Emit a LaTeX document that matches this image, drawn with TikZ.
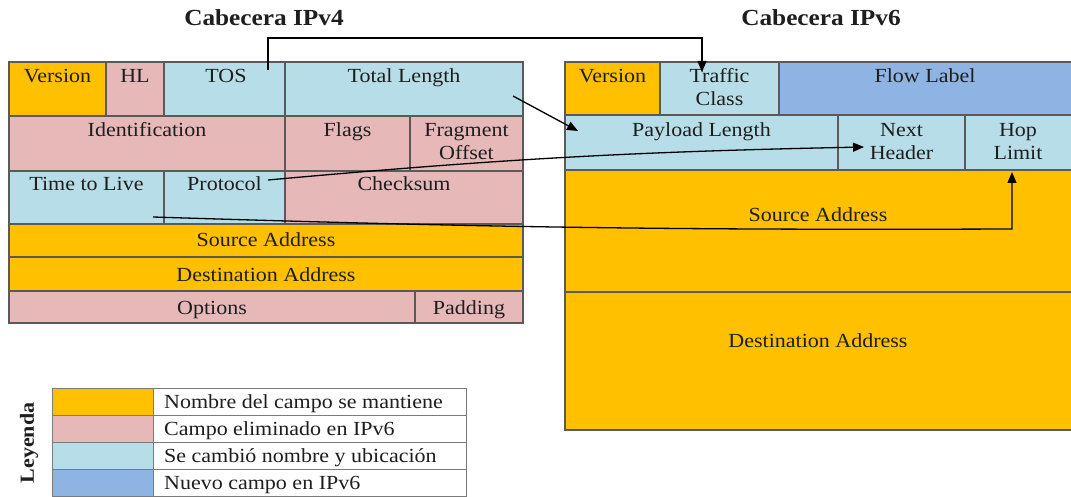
\documentclass[tikz,border=0pt]{standalone}
\usepackage{fontspec}
\setmainfont{Liberation Serif}[FakeStretch=1.1]
\usetikzlibrary{arrows.meta}
\definecolor{gold}{HTML}{FFC000}
\definecolor{rose}{HTML}{E6B9B8}
\definecolor{sky}{HTML}{B7DEE8}
\definecolor{azure}{HTML}{8DB4E2}
\definecolor{edge}{HTML}{5A5A5A}
\definecolor{ink}{HTML}{1E1E1E}
\begin{document}
\begin{tikzpicture}[x=1pt,y=-1pt,
  cell/.style={draw=edge, line width=1.2pt},
  lcell/.style={draw=edge!80, line width=1pt},
  txt/.style={anchor=base, inner sep=0pt, text=ink, font=\fontsize{20}{23}\selectfont},
  ltxt/.style={anchor=base west, inner sep=0pt, text=ink, font=\fontsize{20}{23}\selectfont},
  ttl/.style={anchor=base, inner sep=0pt, text=ink, font=\bfseries\fontsize{23}{26}\selectfont},
  conn/.style={line width=1.3pt, draw=black, -{Triangle[length=11pt,width=9pt]}},
]
\useasboundingbox[fill=white] (0,0) rectangle (1071,497);

% titles
\node[ttl] (t4) at (264,26) {Cabecera IPv4};
\node[ttl] (t6) at (821,26) {Cabecera IPv6};

% IPv4 header
\path[cell, fill=gold] (9,62) rectangle (106,116);
\path[cell, fill=rose] (106,62) rectangle (164,116);
\path[cell, fill=sky] (164,62) rectangle (285,116);
\path[cell, fill=sky] (285,62) rectangle (523,116);
\path[cell, fill=rose] (9,116) rectangle (285,171);
\path[cell, fill=rose] (285,116) rectangle (410,171);
\path[cell, fill=rose] (410,116) rectangle (523,171);
\path[cell, fill=sky] (9,171) rectangle (164,224);
\path[cell, fill=sky] (164,171) rectangle (285,224);
\path[cell, fill=rose] (285,171) rectangle (523,224);
\path[cell, fill=gold] (9,224) rectangle (523,257);
\path[cell, fill=gold] (9,257) rectangle (523,291);
\path[cell, fill=rose] (9,291) rectangle (415,323);
\path[cell, fill=rose] (415,291) rectangle (523,323);

\node[txt] (a1) at (57.5,83) {Version};
\node[txt] (a2) at (135,83) {HL};
\node[txt] (a3) at (226,83) {TOS};
\node[txt] (a4) at (404,83) {Total Length};
\node[txt] (a5) at (147,137) {Identification};
\node[txt] (a6) at (347.5,137) {Flags};
\node[txt] (a7) at (466.5,137) {Fragment};
\node[txt] (a7b) at (466.5,160) {Offset};
\node[txt] (a8) at (86.5,191) {Time to Live};
\node[txt] (a9) at (224.5,191) {Protocol};
\node[txt] (a10) at (404,191) {Checksum};
\node[txt] (a11) at (266,247) {Source Address};
\node[txt] (a12) at (266,281) {Destination Address};
\node[txt] (a13) at (212,314) {Options};
\node[txt] (a14) at (469,314) {Padding};

% IPv6 header
\path[cell, fill=gold] (565,62) rectangle (660,115);
\path[cell, fill=sky] (660,62) rectangle (779,115);
\path[cell, fill=azure] (779,62) rectangle (1076,115);
\path[cell, fill=sky] (565,115) rectangle (838,170);
\path[cell, fill=sky] (838,115) rectangle (965,170);
\path[cell, fill=sky] (965,115) rectangle (1076,170);
\path[cell, fill=gold] (565,170) rectangle (1076,292);
\path[cell, fill=gold] (565,292) rectangle (1076,430);

\node[txt] (b1) at (612.5,83) {Version};
\node[txt] (b2) at (719.5,83) {Traffic};
\node[txt] (b2b) at (719.5,106) {Class};
\node[txt] (b3) at (925,83) {Flow Label};
\node[txt] (b4) at (701.5,137) {Payload Length};
\node[txt] (b5) at (901.5,137) {Next};
\node[txt] (b5b) at (901.5,160) {Header};
\node[txt] (b6) at (1018,137) {Hop};
\node[txt] (b6b) at (1018,160) {Limit};
\node[txt] (b7) at (818,222) {Source Address};
\node[txt] (b8) at (818,347) {Destination Address};

% legend
\path[lcell, fill=gold] (52,388) rectangle (153,415);
\path[lcell, fill=rose] (52,415) rectangle (153,442);
\path[lcell, fill=sky] (52,442) rectangle (153,469);
\path[lcell, fill=azure] (52,469) rectangle (153,496);
\path[lcell, fill=white] (153,388) rectangle (466,415);
\path[lcell, fill=white] (153,415) rectangle (466,442);
\path[lcell, fill=white] (153,442) rectangle (466,469);
\path[lcell, fill=white] (153,469) rectangle (466,496);
\node[ltxt] (l1) at (164,408) {Nombre del campo se mantiene};
\node[ltxt] (l2) at (164,435) {Campo eliminado en IPv6};
\node[ltxt] (l3) at (164,462) {Se cambió nombre y ubicación};
\node[ltxt] (l4) at (164,489) {Nuevo campo en IPv6};
\node[inner sep=0pt, text=ink, font=\bfseries\fontsize{20}{23}\selectfont, rotate=90] (ley) at (29,443) {Leyenda};

% connectors
\coordinate (tosS) at (268,70);
\coordinate (tosB) at (268,38);
\coordinate (tcE) at (702,72);
\draw[conn] (tosS) -- (tosB) -| (tcE);

\coordinate (tlS) at (513,96);
\coordinate (plE) at (578,131);
\draw[conn] (tlS) -- (plE);

\coordinate (prS) at (268,180);
\coordinate (nhE) at (864,147);
\draw[conn] (prS) to[bend left=2] (nhE);

\coordinate (ttS) at (153,217);
\coordinate (hlC) at (1012,229);
\coordinate (hlE) at (1012,172);
\draw[conn] (ttS) to[bend right=1] (hlC) -- (hlE);
\end{tikzpicture}
\end{document}
